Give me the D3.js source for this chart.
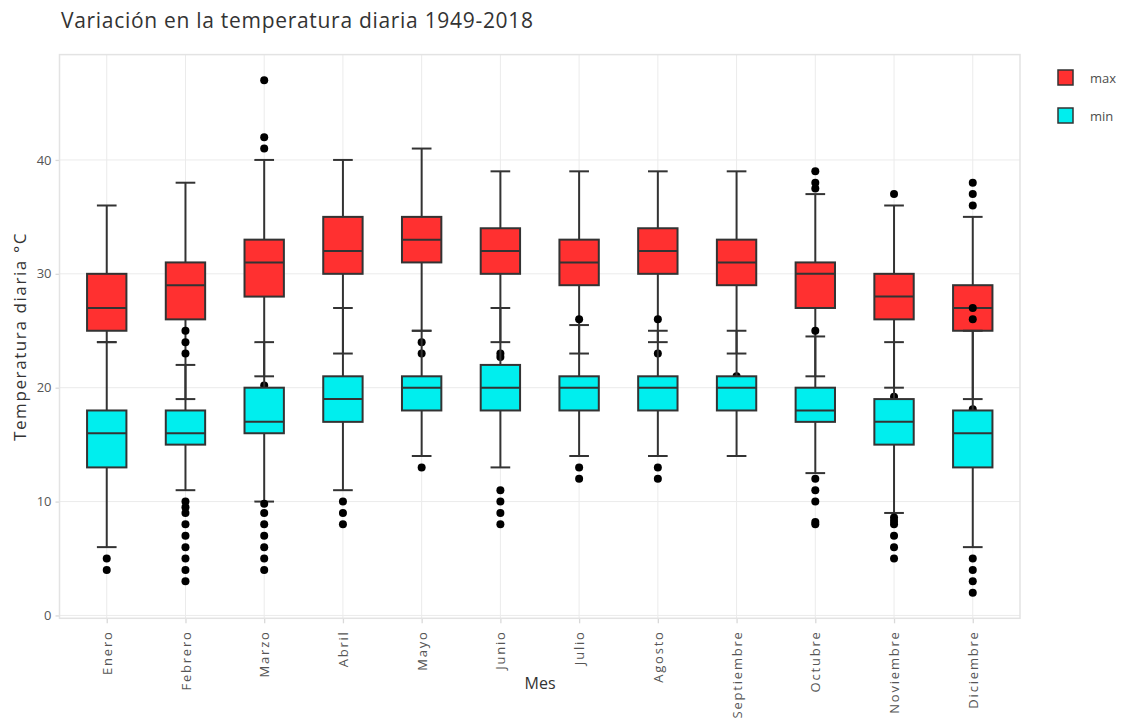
<!DOCTYPE html>
<html>
<head>
<meta charset="utf-8">
<script src="https://cdn.jsdelivr.net/npm/d3@7"></script>
<style>
  body { margin: 0; background: #fff; }
  text { font-family: "Open Sans", verdana, arial, sans-serif; }
</style>
</head>
<body>
<svg id="chart" width="1134" height="719"></svg>
<script>
var months = ["Enero", "Febrero", "Marzo", "Abril", "Mayo", "Junio", "Julio",
  "Agosto", "Septiembre", "Octubre", "Noviembre", "Diciembre"];
var yTicks = [0, 10, 20, 30, 40];

// daily max temperature, per month
var maxLow  = [24, 19, 21, 23, 25, 24, 23, 24, 23, 21, 20, 19];
var maxQ1   = [25, 26, 28, 30, 31, 30, 29, 30, 29, 27, 26, 25];
var maxMed  = [27, 29, 31, 32, 33, 32, 31, 32, 31, 30, 28, 27];
var maxQ3   = [30, 31, 33, 35, 35, 34, 33, 34, 33, 31, 30, 29];
var maxHigh = [36, 38, 40, 40, 41, 39, 39, 39, 39, 37, 36, 35];
var maxOut  = [[], [], [47, 42, 41, 20.2], [], [24, 23], [23, 22.7], [], [23], [21],
  [39, 38, 37.5], [37, 19.2], [38, 37, 36, 18.1]];

// daily min temperature, per month
var minLow  = [6, 11, 10, 11, 14, 13, 14, 14, 14, 12.5, 9, 6];
var minQ1   = [13, 15, 16, 17, 18, 18, 18, 18, 18, 17, 15, 13];
var minMed  = [16, 16, 17, 19, 20, 20, 20, 20, 20, 18, 17, 16];
var minQ3   = [18, 18, 20, 21, 21, 22, 21, 21, 21, 20, 19, 18];
var minHigh = [24, 22, 24, 27, 25, 27, 25.5, 25, 25, 24.5, 24, 25];
var minOut  = [[5, 4], [25, 24, 23, 10, 9.5, 9, 8, 7, 6, 5, 4, 3], [9.8, 9, 8, 7, 6, 5, 4],
  [10, 9, 8], [13], [11, 10, 9, 8], [26, 13, 12], [26, 13, 12], [],
  [25, 12, 11, 10, 8.2, 8], [8.6, 8.3, 8, 7, 6, 5], [27, 26, 5, 4, 3, 2]];

var seriesNames = ["max", "min"];
var seriesColors = ["#FF3030", "#00EEEE"];

function build(low, q1, med, q3, high, out) {
  return months.map(function(m, i) {
    return { month: m, low: low[i], q1: q1[i], med: med[i], q3: q3[i], high: high[i], out: out[i] };
  });
}
var series = [
  { name: "max", color: seriesColors[0], rows: build(maxLow, maxQ1, maxMed, maxQ3, maxHigh, maxOut) },
  { name: "min", color: seriesColors[1], rows: build(minLow, minQ1, minMed, minQ3, minHigh, minOut) }
];

var svg = d3.select("#chart");
// panel edges (don't use "top" - clashes with window.top)
var pL = 59.5, pR = 1020, pT = 54.6, pB = 618.3;

var x = d3.scalePoint().domain(months).range([pL, pR]).padding(0.6);
var y = d3.scaleLinear().domain([-0.25, 49.25]).range([pB, pT]);
var boxW = x.step() * 0.5, capW = x.step() * 0.25;

// title
svg.append("text")
  .attr("x", 61).attr("y", 28)
  .attr("font-size", 21).attr("letter-spacing", 0.7).attr("fill", "#333")
  .text("Variación en la temperatura diaria 1949-2018");

// grid
var grid = svg.append("g");
grid.selectAll(".gy").data(yTicks).enter().append("line")
  .attr("x1", pL).attr("x2", pR)
  .attr("y1", function(d) { return y(d); }).attr("y2", function(d) { return y(d); })
  .attr("stroke", "#ebebeb").attr("stroke-width", 1);
grid.selectAll(".gx").data(months).enter().append("line")
  .attr("y1", pT).attr("y2", pB)
  .attr("x1", function(d) { return x(d); }).attr("x2", function(d) { return x(d); })
  .attr("stroke", "#ebebeb").attr("stroke-width", 1);

// axes
var yAxis = svg.append("g")
  .attr("transform", "translate(" + pL + ",0)")
  .call(d3.axisLeft(y).tickValues(yTicks).tickSize(4).tickPadding(4));
var xAxis = svg.append("g")
  .attr("transform", "translate(0," + pB + ")")
  .call(d3.axisBottom(x).tickSize(5).tickPadding(6));
[yAxis, xAxis].forEach(function(a) {
  a.select(".domain").remove();
  a.selectAll(".tick line").attr("stroke", "#d9d9d9").attr("stroke-width", 1.3);
  a.selectAll(".tick text").attr("fill", "#555")
    .style("font-family", '"Open Sans", verdana, arial, sans-serif');
});
yAxis.selectAll(".tick text").attr("font-size", 13);
xAxis.selectAll(".tick text")
  .attr("font-size", 13)
  .attr("letter-spacing", 1.8)
  .attr("text-anchor", "end")
  .attr("dy", "0.35em")
  .attr("transform", "rotate(-90)")
  .attr("x", -12).attr("y", 0);

// axis titles
svg.append("text")
  .attr("transform", "translate(26," + (pT + pB) / 2 + ") rotate(-90)")
  .attr("text-anchor", "middle").attr("font-size", 17).attr("letter-spacing", 1.6)
  .attr("fill", "#333")
  .text("Temperatura diaria °C");
svg.append("text")
  .attr("x", 540).attr("y", 689)
  .attr("text-anchor", "middle").attr("font-size", 16).attr("fill", "#333")
  .text("Mes");

// boxes
series.forEach(function(s) {
  var g = svg.append("g").attr("class", "series-" + s.name);
  var b = g.selectAll(".box").data(s.rows).enter().append("g")
    .attr("transform", function(d) { return "translate(" + x(d.month) + ",0)"; });

  b.append("line").attr("x1", 0).attr("x2", 0)
    .attr("y1", function(d) { return y(d.q3); }).attr("y2", function(d) { return y(d.high); })
    .attr("stroke", "#333").attr("stroke-width", 2);
  b.append("line").attr("x1", 0).attr("x2", 0)
    .attr("y1", function(d) { return y(d.q1); }).attr("y2", function(d) { return y(d.low); })
    .attr("stroke", "#333").attr("stroke-width", 2);
  b.append("line").attr("x1", -capW / 2).attr("x2", capW / 2)
    .attr("y1", function(d) { return y(d.high); }).attr("y2", function(d) { return y(d.high); })
    .attr("stroke", "#333").attr("stroke-width", 2);
  b.append("line").attr("x1", -capW / 2).attr("x2", capW / 2)
    .attr("y1", function(d) { return y(d.low); }).attr("y2", function(d) { return y(d.low); })
    .attr("stroke", "#333").attr("stroke-width", 2);

  b.append("rect")
    .attr("x", -boxW / 2).attr("width", boxW)
    .attr("y", function(d) { return y(d.q3); })
    .attr("height", function(d) { return y(d.q1) - y(d.q3); })
    .attr("fill", s.color).attr("stroke", "#333").attr("stroke-width", 2);
  b.append("line").attr("x1", -boxW / 2).attr("x2", boxW / 2)
    .attr("y1", function(d) { return y(d.med); }).attr("y2", function(d) { return y(d.med); })
    .attr("stroke", "#333").attr("stroke-width", 2);

  b.selectAll(".out").data(function(d) { return d.out; }).enter().append("circle")
    .attr("cx", 0).attr("cy", function(v) { return y(v); }).attr("r", 4)
    .attr("fill", "#000");
});

// panel border
svg.append("rect")
  .attr("x", pL).attr("y", pT)
  .attr("width", pR - pL).attr("height", pB - pT)
  .attr("fill", "none").attr("stroke", "#e3e3e3").attr("stroke-width", 1.5);

// legend
var leg = svg.append("g").attr("transform", "translate(1058,70)");
var li = leg.selectAll(".li").data(seriesNames).enter().append("g")
  .attr("transform", function(d, i) { return "translate(0," + i * 38 + ")"; });
li.append("rect").attr("width", 15).attr("height", 15)
  .attr("fill", function(d, i) { return seriesColors[i]; })
  .attr("stroke", "#333").attr("stroke-width", 1.5);
li.append("text").attr("x", 32).attr("y", 12.5)
  .attr("font-size", 13).attr("fill", "#4d4d4d")
  .text(function(d) { return d; });
</script>
</body>
</html>
